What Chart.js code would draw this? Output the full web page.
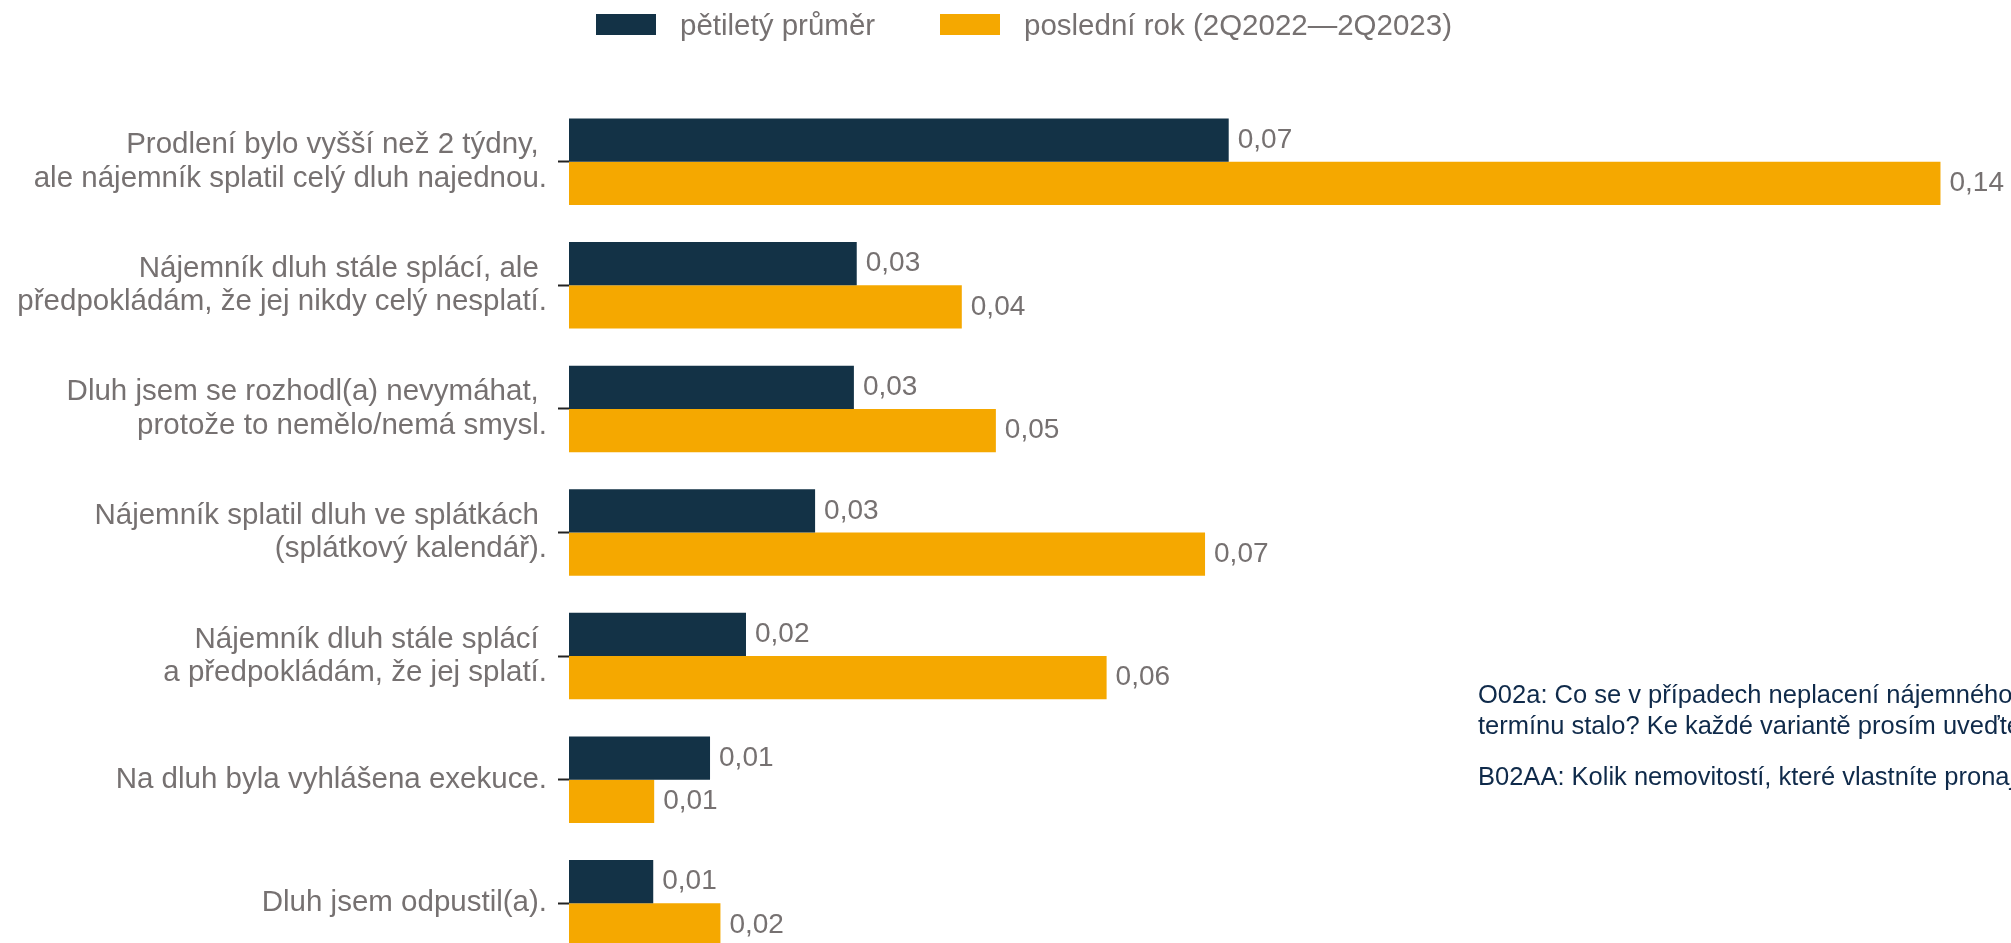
<!DOCTYPE html>
<html>
<head>
<meta charset="utf-8">
<script src="https://cdn.jsdelivr.net/npm/chart.js@4.4.1/dist/chart.umd.min.js"></script>
<style>
html,body{margin:0;padding:0;overflow:hidden;background:#fff;width:2011px;height:943px;}
#wrap{position:absolute;left:0;top:0;width:2100px;height:1010px;}
.leg{position:absolute;top:7.5px;display:flex;align-items:center;font:29.5px 'Liberation Sans',Arial,sans-serif;color:#767171;white-space:nowrap;}
.leg .box{display:inline-block;width:60px;height:21px;margin-right:24px;}
#note{position:absolute;left:1478px;top:679px;font:25.5px 'Liberation Sans',Arial,sans-serif;line-height:30.7px;color:#0f2a4a;white-space:nowrap;}
#note .p2{margin-top:20.3px;}
</style>
</head>
<body>
<div id="wrap"><canvas id="c"></canvas></div>
<div id="leg1" class="leg" style="left:596px"></div>
<div id="leg2" class="leg" style="left:940px"></div>
<div id="note">
  <div>O02a: Co se v případech neplacení nájemného v řádném</div>
  <div>termínu stalo? Ke každé variantě prosím uveďte počet nemovitostí.</div>
  <div class="p2">B02AA: Kolik nemovitostí, které vlastníte pronajímáte?</div>
</div>
<script>
const categories = [
  ["Prodlení bylo vyšší než 2 týdny, ", "ale nájemník splatil celý dluh najednou."],
  ["Nájemník dluh stále splácí, ale ", "předpokládám, že jej nikdy celý nesplatí."],
  ["Dluh jsem se rozhodl(a) nevymáhat, ", "protože to nemělo/nemá smysl."],
  ["Nájemník splatil dluh ve splátkách ", "(splátkový kalendář)."],
  ["Nájemník dluh stále splácí ", "a předpokládám, že jej splatí."],
  "Na dluh byla vyhlášena exekuce.",
  "Dluh jsem odpustil(a)."
];
const seriesNames = ["pětiletý průměr", "poslední rok (2Q2022—2Q2023)"];
const fiveYearAvg = [0.0697, 0.0304, 0.0301, 0.0260, 0.0187, 0.0149, 0.0089];
const lastYear    = [0.1449, 0.0415, 0.0451, 0.0672, 0.0568, 0.0090, 0.0160];
const seriesColors = ["#133246", "#F5A800"];

const FONT = "'Liberation Sans', Arial, sans-serif";
Chart.defaults.font.family = FONT;

function fmt(v){ return v.toFixed(2).replace('.', ','); }

[["leg1",0],["leg2",1]].forEach(([id,i])=>{
  const el=document.getElementById(id);
  const b=document.createElement('span'); b.className='box'; b.style.background=seriesColors[i];
  const t=document.createElement('span'); t.textContent=seriesNames[i];
  el.appendChild(b); el.appendChild(t);
});

const valueLabels = {
  id:'valueLabels',
  afterDatasetsDraw(chart){
    const ctx=chart.ctx; ctx.save();
    ctx.font = "28px " + FONT;
    ctx.fillStyle = '#767171';
    ctx.textBaseline = 'middle';
    ctx.textAlign = 'left';
    chart.data.datasets.forEach((ds,di)=>{
      const meta = chart.getDatasetMeta(di);
      meta.data.forEach((bar,i)=>{
        ctx.fillText(fmt(ds.data[i]), bar.x + 9, bar.y);
      });
    });
    ctx.restore();
  }
};

new Chart(document.getElementById('c'), {
  type: 'bar',
  data: {
    labels: categories,
    datasets: [
      {label: seriesNames[0], data: fiveYearAvg, backgroundColor: seriesColors[0], borderWidth: 0, categoryPercentage: 0.7, barPercentage: 1},
      {label: seriesNames[1], data: lastYear, backgroundColor: seriesColors[1], borderWidth: 0, categoryPercentage: 0.7, barPercentage: 1}
    ]
  },
  options: {
    indexAxis: 'y',
    responsive: true,
    maintainAspectRatio: false,
    animation: false,
    layout: {padding: {left: 0, top: 100, right: 16.6, bottom: 45}},
    plugins: {legend: {display: false}, tooltip: {enabled: false}},
    scales: {
      x: {display: false, min: 0, max: 0.16},
      y: {
        afterFit(scale){ scale.width = 569; },
        border: {display: false},
        grid: {offset: false, drawOnChartArea: false, drawTicks: true, tickLength: 11, tickWidth: 2, tickColor: '#222', color: '#222'},
        ticks: {padding: 11, color: '#767171', font: {size: 29.5, lineHeight: 1.13, family: FONT}}
      }
    }
  },
  plugins: [valueLabels]
});
</script>
</body>
</html>
